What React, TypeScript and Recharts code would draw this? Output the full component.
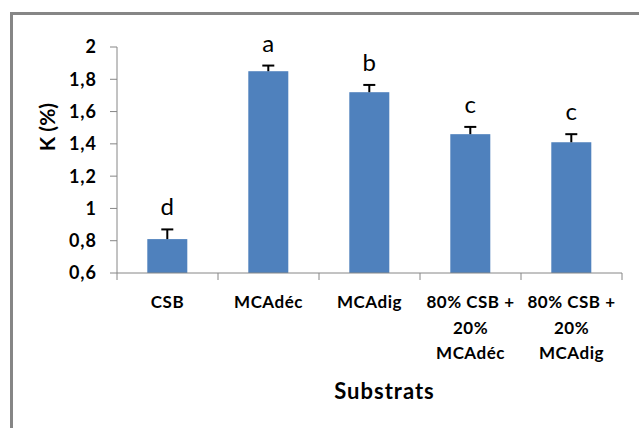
import React from 'react';
import { BarChart, Bar, XAxis, YAxis } from 'recharts';

// données
const substrats = ['CSB', 'MCAdéc', 'MCAdig', '80% CSB +\n20%\nMCAdéc', '80% CSB +\n20%\nMCAdig'];
const kMoyen = [0.81, 1.85, 1.72, 1.46, 1.41];
const kErreur = [0.06, 0.035, 0.045, 0.045, 0.05];
const lettres = ['d', 'a', 'b', 'c', 'c'];
const yTicks = [0.6, 0.8, 1, 1.2, 1.4, 1.6, 1.8, 2];

const Y_MIN = 0.6;
const Y_MAX = 2;
const FONT = 'Lato, "Open Sans", sans-serif';

const chartData = substrats.map((name, i) => ({
  name,
  k: kMoyen[i],
  err: kErreur[i],
  lettre: lettres[i],
}));

// barre + barre d'erreur (vers le haut seulement) + lettre de groupe
const BarWithError = (props: any) => {
  const { x, y, width, height, fill, payload } = props;
  const pxPerUnit = height / (payload.k - Y_MIN);
  const top = y - payload.err * pxPerUnit;
  const cx = x + width / 2;
  return (
    <g>
      <rect x={x} y={y} width={width} height={height} fill={fill} />
      <line x1={cx} y1={y} x2={cx} y2={top} stroke="#000" strokeWidth={2} />
      <line x1={cx - 6} y1={top} x2={cx + 6} y2={top} stroke="#000" strokeWidth={2} />
      <text x={cx} y={top - 14} textAnchor="middle" fontFamily={FONT} fontSize={24} fill="#000">
        {payload.lettre}
      </text>
    </g>
  );
};

const XTick = (props: any) => {
  const { x, y, payload, index } = props;
  const half = payload.offset || 0;
  const lines = String(payload.value).split('\n');
  return (
    <g>
      <line x1={x - half} y1={y} x2={x - half} y2={y + 7} stroke="#868686" />
      {index === substrats.length - 1 && (
        <line x1={x + half} y1={y} x2={x + half} y2={y + 7} stroke="#868686" />
      )}
      {lines.map((l, i) => (
        <text
          key={i}
          x={x}
          y={y + 35 + i * 25.5}
          textAnchor="middle"
          fontFamily={FONT}
          fontWeight="bold"
          fontSize={17}
          letterSpacing={0.5}
          fill="#000"
        >
          {l}
        </text>
      ))}
    </g>
  );
};

const App: React.FC = () => {
  return (
    <div style={{ position: 'absolute', left: 0, top: 0, width: 639, height: 428, overflow: 'hidden', background: '#fff' }}>
      <div
        style={{
          position: 'absolute',
          left: 10,
          top: 12,
          width: 700,
          height: 500,
          border: '3px solid #868686',
          boxSizing: 'border-box',
        }}
      />
      <div style={{ position: 'absolute', left: 0, top: 0 }}>
        <BarChart
          width={639}
          height={428}
          data={chartData}
          margin={{ top: 47, right: 17, left: 0, bottom: 0 }}
          barCategoryGap="30%"
        >
          <XAxis
            dataKey="name"
            height={155}
            interval={0}
            axisLine={{ stroke: '#868686' }}
            tickLine={false}
            tickSize={0}
            tickMargin={0}
            tick={<XTick />}
            label={{
              content: (p: any) => {
                const vb = p.viewBox;
                return (
                  <text
                    x={vb.x + vb.width / 2 + 15}
                    y={399}
                    textAnchor="middle"
                    fontFamily={FONT}
                    fontWeight="bold"
                    fontSize={22}
                    letterSpacing={1}
                    fill="#000"
                  >
                    Substrats
                  </text>
                );
              },
            }}
          />
          <YAxis
            width={117}
            domain={[Y_MIN, Y_MAX]}
            ticks={yTicks}
            interval={0}
            axisLine={{ stroke: '#868686' }}
            tickLine={{ stroke: '#868686' }}
            tickSize={7}
            tickMargin={13}
            tickFormatter={(v: number) => String(v).replace('.', ',')}
            tick={{ fontFamily: FONT, fontWeight: 'bold', fontSize: 18, letterSpacing: 1, fill: '#000' }}
            label={{
              content: () => (
                <text
                  x={0}
                  y={0}
                  transform="translate(55,127) rotate(-90)"
                  textAnchor="middle"
                  fontFamily={FONT}
                  fontWeight="bold"
                  fontSize={21}
                  fill="#000"
                >
                  K (%)
                </text>
              ),
            }}
          />
          <Bar dataKey="k" fill="#4F81BD" isAnimationActive={false} shape={<BarWithError />} />
        </BarChart>
      </div>
    </div>
  );
};

export default App;
